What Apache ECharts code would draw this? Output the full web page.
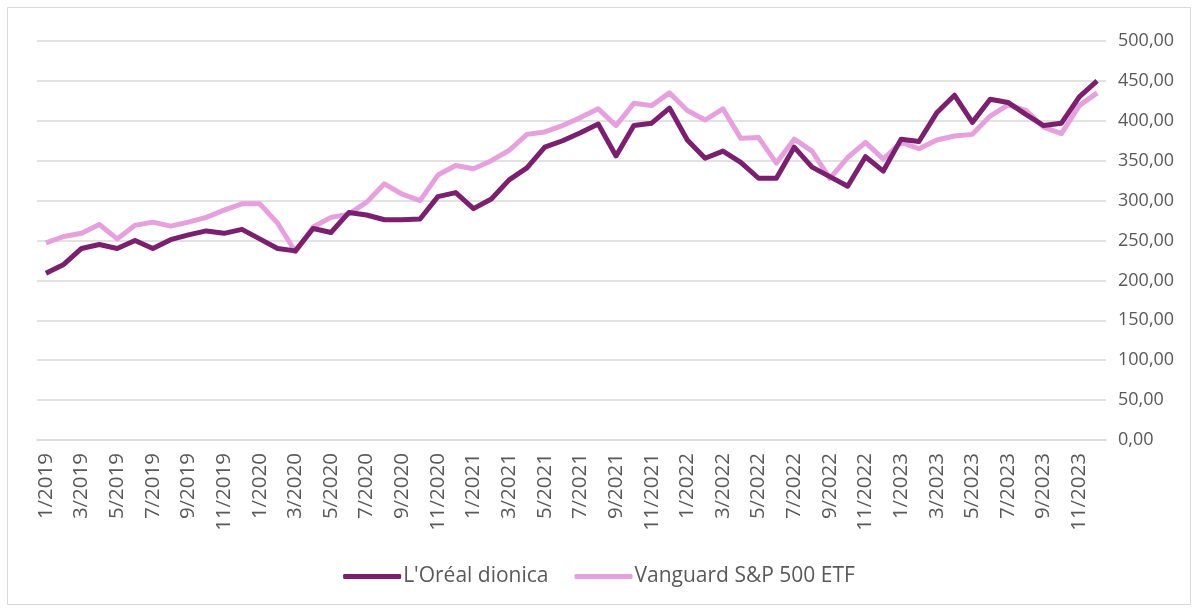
<!DOCTYPE html>
<html><head><meta charset="utf-8">
<script src="https://cdn.jsdelivr.net/npm/echarts@6/dist/echarts.min.js"></script>
<style>html,body{margin:0;padding:0;background:#fff}#c{width:1198px;height:610px}</style>
</head><body><div id="c"></div>
<script>
const years = [2019, 2020, 2021, 2022, 2023];
const categories = [];
years.forEach(y => { for (let m = 1; m <= 12; m++) categories.push(m + '/' + y); });

const loreal = [209,220,240,245,240,250,240,251,257,262,259,264,
  252,240,237,265,260,285,282,276,276,277,305,310,
  290,302,326,341,367,375,385,396,356,394,397,416,
  376,353,362,348,328,328,367,342,330,318,355,337,
  377,374,410,432,398,427,423,408,394,397,430,450];
const vanguard = [247,255,259,270,252,269,273,268,273,279,288,296,
  296,272,236,267,279,283,298,321,308,300,332,344,
  340,350,363,383,386,394,404,415,394,422,419,435,
  413,401,415,378,379,347,377,362,328,354,373,352,
  373,365,376,381,383,406,420,413,392,384,419,435];
const seriesNames = ["L'Oréal dionica", "Vanguard S&P 500 ETF"];
const colors = ['#7b1f6f', '#e6a0dd'];

const chart = echarts.init(document.getElementById('c'));
const font = "'Open Sans', 'Liberation Sans', sans-serif";
chart.setOption({
  animation: false,
  backgroundColor: '#fff',
  graphic: [{type:'rect', shape:{x:7.5,y:7.5,width:1183,height:597}, style:{fill:'none', stroke:'#d9d9d9', lineWidth:1}}],
  grid: {left: 37, right: 92, top: 41, bottom: 170, containLabel: false},
  legend: {
    bottom: 18, left: 'center', itemWidth: 58, itemHeight: 5, itemGap: 26,
    icon: 'roundRect',
    textStyle: {fontFamily: font, fontSize: 21, color: '#595959', padding: [0,0,0,-3]},
    data: seriesNames
  },
  xAxis: {
    type: 'category', data: categories, boundaryGap: true,
    axisLine: {show: true, lineStyle: {color: '#d9d9d9', width: 1.5}},
    axisTick: {show: false},
    axisLabel: {interval: 1, rotate: 90, margin: 13, color: '#595959', fontSize: 20.5, fontFamily: font}
  },
  yAxis: {
    type: 'value', position: 'right', min: 0, max: 500, interval: 50,
    axisLine: {show: false}, axisTick: {show: false},
    splitLine: {lineStyle: {color: '#d9d9d9', width: 1.5}},
    axisLabel: {margin: 12, color: '#595959', fontSize: 18, fontFamily: font,
      formatter: v => v.toFixed(2).replace('.', ',')}
  },
  series: [
    {name: seriesNames[0], type: 'line', data: loreal, showSymbol: false, symbol: 'none',
     lineStyle: {width: 5, color: colors[0], join: 'round'}, itemStyle: {color: colors[0]}, z: 3},
    {name: seriesNames[1], type: 'line', data: vanguard, showSymbol: false, symbol: 'none',
     lineStyle: {width: 5, color: colors[1], join: 'round'}, itemStyle: {color: colors[1]}, z: 2}
  ]
});
</script></body></html>
